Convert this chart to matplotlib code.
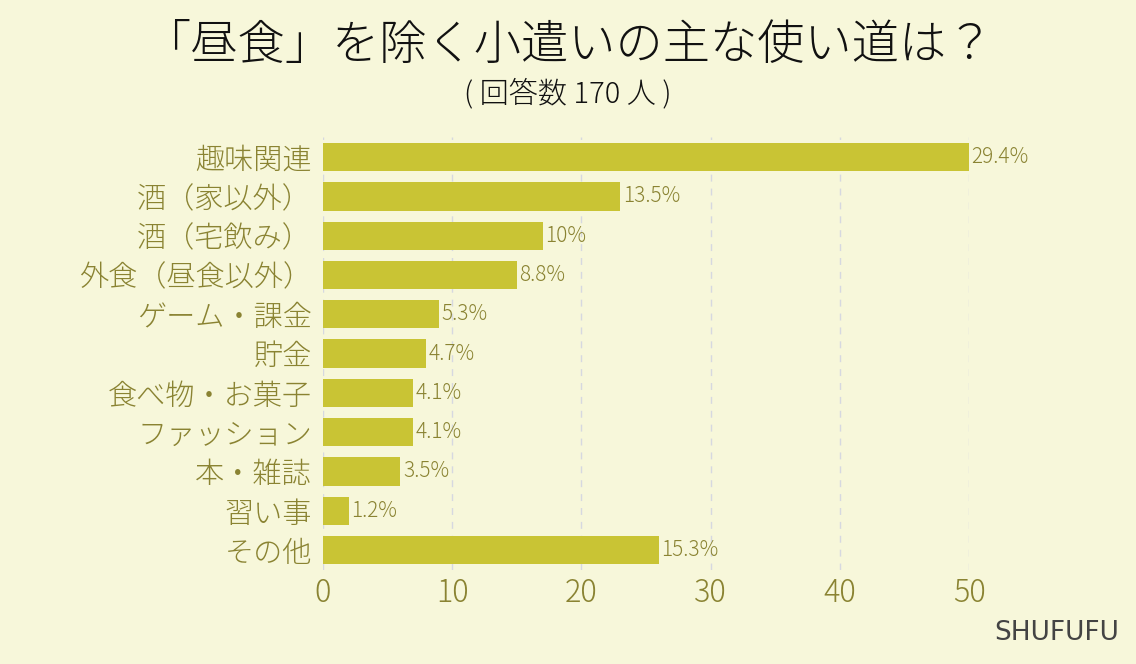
import matplotlib
matplotlib.use("Agg")
import matplotlib.pyplot as plt

plt.rcParams["font.family"] = ["Noto Sans CJK JP", "DejaVu Sans"]

# --- Data ---
categories = ["趣味関連", "酒（家以外）", "酒（宅飲み）", "外食（昼食以外）", "ゲーム・課金",
              "貯金", "食べ物・お菓子", "ファッション", "本・雑誌", "習い事", "その他"]
counts = [50, 23, 17, 15, 9, 8, 7, 7, 6, 2, 26]
pct_labels = ["29.4%", "13.5%", "10%", "8.8%", "5.3%", "4.7%", "4.1%", "4.1%", "3.5%", "1.2%", "15.3%"]
x_ticks = [0, 10, 20, 30, 40, 50]

bg = "#f7f7da"
bar_color = "#c9c434"
text_color = "#8a8332"

fig = plt.figure(figsize=(11.36, 6.64), dpi=100, facecolor=bg)
ax = fig.add_axes([0.2843, 0.142, 0.5687, 0.651], facecolor=bg)

y = list(range(len(categories)))
ax.barh(y, counts, height=0.72, color=bar_color, zorder=3)
ax.set_ylim(len(categories) - 0.5, -0.5)
ax.set_xlim(0, 50)

for yi, c, lab in zip(y, counts, pct_labels):
    ax.text(c + 0.2, yi, lab, va="center", ha="left", fontsize=15, fontweight="light",
            color=text_color, clip_on=False, zorder=4)

ax.set_yticks(y)
ax.set_yticklabels(categories, fontsize=21, fontweight="light", color=text_color)
ax.set_xticks(x_ticks)
ax.set_xticklabels([str(t) for t in x_ticks], fontsize=22, fontweight="light", color=text_color)
ax.tick_params(axis="both", length=0)
ax.tick_params(axis="y", pad=8)
ax.tick_params(axis="x", pad=5)

ax.grid(axis="x", color="#d6d8e0", linestyle=(0, (5, 5)), linewidth=1, zorder=0)
for s in ax.spines.values():
    s.set_visible(False)

fig.text(0.5, 0.932, "「昼食」を除く小遣いの主な使い道は？", ha="center", va="center",
         fontsize=34, fontweight="light", color="#111111")
fig.text(0.5, 0.858, "( 回答数 170 人 )", ha="center", va="center",
         fontsize=21, fontweight="light", color="#111111")
fig.text(0.985, 0.047, "SHUFUFU", ha="right", va="center", fontsize=19,
         color="#444444", family=["DejaVu Sans"])

fig.savefig("out.png", dpi=100, facecolor=bg)
